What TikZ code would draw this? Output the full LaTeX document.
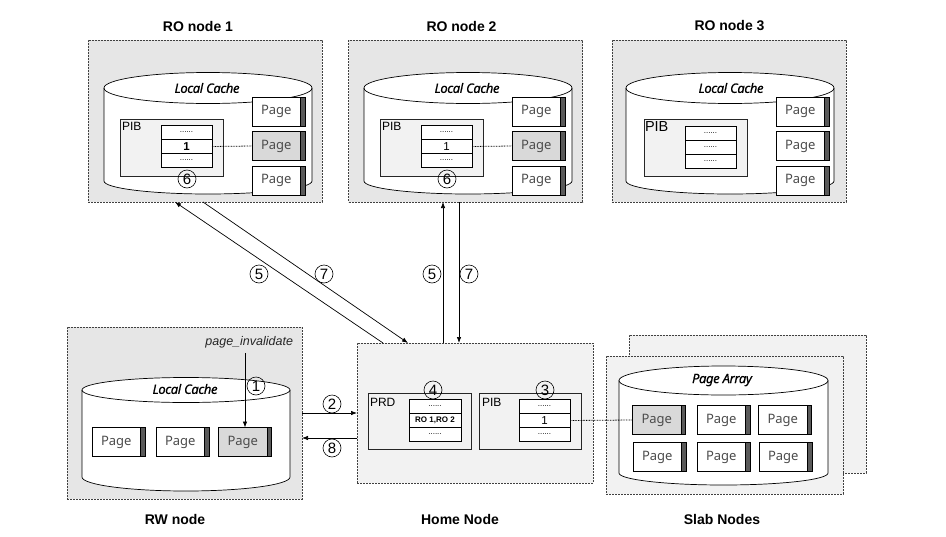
\documentclass[tikz,border=0pt]{standalone}
\usepackage{fontspec}
\setmainfont{Liberation Sans}
\newfontfamily\notosans{Noto Sans}
\newfontfamily\cachefont[LetterSpace=-3,FakeBold=0.6]{Noto Sans Italic}
\usetikzlibrary{arrows.meta}

\definecolor{boxdark}{HTML}{E6E6E6}
\definecolor{boxlight}{HTML}{F2F2F2}
\definecolor{pagegrayc}{HTML}{D9D9D9}
\definecolor{barc}{HTML}{5A5A5A}

\newcommand\pg{\makebox[48.5pt]{Page}\hspace*{4.5pt}}
\newcommand\cyl[6]{% left right topy rytop bottomy rybottom
  \pgfmathsetmacro\rxx{(#2-#1)/2}%
  \pgfmathsetmacro\cxx{(#2+#1)/2}%
  \path[cylfill] (#1,#3) -- (#1,#5) arc[start angle=180,end angle=0,x radius=\rxx,y radius=#6] -- (#2,#3) arc[start angle=0,end angle=-180,x radius=\rxx,y radius=#4] -- cycle;
  \draw[cylline] (#1,#3) -- (#1,#5) arc[start angle=180,end angle=0,x radius=\rxx,y radius=#6] -- (#2,#3);
  \draw[cylline] (\cxx,#3) ellipse[x radius=\rxx,y radius=#4];
}

\begin{document}
\begin{tikzpicture}[x=1pt,y=-1pt,
  every node/.style={inner sep=0pt, outer sep=0pt},
  nodebox/.style={draw=black!75, dash pattern=on 2pt off 1pt, line width=0.7pt, fill=#1},
  innerbox/.style={draw=black!85, line width=0.7pt, fill=#1},
  cell/.style={draw, line width=0.7pt, fill=white, minimum width=51pt, minimum height=14pt, font=\fontsize{8}{8}\selectfont},
  cellnum/.style={cell, font=\fontsize{11.5}{11.5}\selectfont},
  page/.style={draw, line width=0.7pt, fill=white, minimum width=53pt, minimum height=29pt,
    text=black!70, font=\notosans\fontsize{13}{13}\selectfont,
    path picture={\fill[barc] ([xshift=-4.5pt]path picture bounding box.north east) rectangle (path picture bounding box.south east);
      \draw[line width=0.7pt] ([xshift=-4.5pt]path picture bounding box.north east) -- ([xshift=-4.5pt]path picture bounding box.south east);}},
  pagegray/.style={page, fill=pagegrayc},
  cylfill/.style={fill=white},
  cylline/.style={draw, line width=0.7pt},
  title/.style={font=\bfseries\fontsize{14}{14}\selectfont},
  cachelabel/.style={font=\cachefont\fontsize{13}{13}\selectfont},
  boxlabel/.style={anchor=north west, font=\fontsize{12}{12}\selectfont},
  circ/.style={circle, draw, line width=0.6pt, minimum size=18pt, font=\fontsize{15}{15}\selectfont},
  arr/.style={line width=0.7pt, -{Latex[length=6pt,width=4.5pt]}},
  dotline/.style={line width=0.8pt, dash pattern=on 0.8pt off 0.8pt}
]
\useasboundingbox (0,0) rectangle (946,536);

% ---------- titles
\node[title] (t-ro1) at (198,26) {RO node 1};
\node[title] (t-ro2) at (461.5,26) {RO node 2};
\node[title] (t-ro3) at (729.5,26) {RO node 3};
\node[title] (t-rw) at (175,519) {RW node};
\node[title] (t-home) at (460,519) {Home Node};
\node[title] (t-slab) at (722,519) {Slab Nodes};

% ---------- outer boxes
\node[nodebox=boxdark, minimum width=234pt, minimum height=162pt] (ro1) at (205,121) {};
\node[nodebox=boxdark, minimum width=234pt, minimum height=162pt] (ro2) at (465.5,121) {};
\node[nodebox=boxdark, minimum width=234pt, minimum height=162pt] (ro3) at (729,121) {};
\node[nodebox=boxdark, minimum width=235pt, minimum height=172pt] (rw) at (184.5,413) {};
\node[nodebox=boxlight, minimum width=236pt, minimum height=140pt] (home) at (475,413) {};
\node[nodebox=boxlight, minimum width=237pt, minimum height=138pt] (slabback) at (747.5,404) {};
\node[nodebox=boxlight, minimum width=237pt, minimum height=138pt] (slab) at (724.5,425) {};

% ---------- cylinders
\cyl{104}{312}{88}{15.5}{181}{13}
\cyl{364}{572}{88}{15.5}{181}{13}
\cyl{626}{834}{88}{15.5}{181}{13}
\cyl{82}{290}{390}{12.5}{477}{14}
\cyl{619}{828}{380.5}{14.5}{473}{12}

\node[cachelabel] (lc1) at (207,88) {Local Cache};
\node[cachelabel] (lc2) at (467,88) {Local Cache};
\node[cachelabel] (lc3) at (731,88) {Local Cache};
\node[cachelabel] (lcrw) at (185,389) {Local Cache};
\node[cachelabel] (pa) at (722,380) {Page Array};

% ---------- RO node 1
\node[innerbox=boxlight, minimum width=103pt, minimum height=57pt] (pib1) at (171.5,147.5) {};
\node[boxlabel] (pib1l) at (122,122) {PIB};
\node[cell] (t1a) at (186.5,132.5) {......};
\node[cellnum, font=\bfseries\fontsize{11.5}{11.5}\selectfont] (t1b) at (186.5,146.5) {1};
\node[cell] (t1c) at (186.5,160.5) {......};
\node[page] (p1a) at (278.5,111.5) {\pg};
\node[pagegray] (p1b) at (278.5,146) {\pg};
\node[page] (p1c) at (278.5,180.5) {\pg};
\draw[dotline] (t1b.east) -- (p1b.west);
\node[circ] (c6a) at (187,179) {6};

% ---------- RO node 2
\node[innerbox=boxlight, minimum width=103pt, minimum height=57pt] (pib2) at (431.5,147.5) {};
\node[boxlabel] (pib2l) at (382,122) {PIB};
\node[cell] (t2a) at (446.5,132.5) {......};
\node[cellnum] (t2b) at (446.5,146.5) {1};
\node[cell] (t2c) at (446.5,160.5) {......};
\node[page] (p2a) at (538.5,111.5) {\pg};
\node[pagegray] (p2b) at (538.5,146) {\pg};
\node[page] (p2c) at (538.5,180.5) {\pg};
\draw[dotline] (t2b.east) -- (p2b.west);
\node[circ] (c6b) at (447,179) {6};

% ---------- RO node 3
\node[innerbox=boxlight, minimum width=103pt, minimum height=57pt] (pib3) at (695.5,147.5) {};
\node[boxlabel, font=\fontsize{14.5}{14.5}\selectfont] (pib3l) at (645,122) {PIB};
\node[cell] (t3a) at (710.5,133) {......};
\node[cell] (t3b) at (710.5,147) {......};
\node[cell] (t3c) at (710.5,161) {......};
\node[page] (p3a) at (802.5,111.5) {\pg};
\node[page] (p3b) at (802.5,146) {\pg};
\node[page] (p3c) at (802.5,180.5) {\pg};

% ---------- RW node
\node[page] (rwp1) at (118.5,442) {\pg};
\node[page] (rwp2) at (182.5,442) {\pg};
\node[pagegray] (rwp3) at (245,442) {\pg};
\node[font=\itshape\fontsize{12.5}{12.5}\selectfont, anchor=east, text=black!85] (pinv) at (293,342) {page\_invalidate};
\coordinate (pinvfoot) at ([yshift=-5pt]pinv.south);
\draw[arr] (pinvfoot -| rwp3.north) -- (rwp3.north);
\node[circ] (c1) at (256,386) {1};

% ---------- Home node
\node[innerbox=boxlight, minimum width=103pt, minimum height=56pt] (prd) at (419.5,421) {};
\node[boxlabel] (prdl) at (370,398) {PRD};
\node[cell, minimum width=52pt] (pra) at (435,406.5) {......};
\node[cell, minimum width=52pt, font=\bfseries\fontsize{8}{8}\selectfont] (prb) at (435,420.5) {RO 1,RO 2};
\node[cell, minimum width=52pt] (prc) at (435,434.5) {......};
\node[circ] (c4) at (433,390) {4};

\node[innerbox=boxlight, minimum width=102pt, minimum height=56pt] (hpib) at (530,421) {};
\node[boxlabel] (hpibl) at (482,398) {PIB};
\node[cell] (hpa) at (544.5,406.5) {......};
\node[cellnum] (hpb) at (544.5,420.5) {1};
\node[cell] (hpc) at (544.5,434.5) {......};
\node[circ] (c3) at (545,390) {3};

% ---------- Slab nodes
\node[pagegray] (sp11) at (659,420) {\pg};
\node[page] (sp12) at (723.5,420) {\pg};
\node[page] (sp13) at (785,420) {\pg};
\node[page] (sp21) at (659.5,457) {\pg};
\node[page] (sp22) at (723.5,457) {\pg};
\node[page] (sp23) at (785.5,457) {\pg};
\draw[dotline] (hpb.east) -- (sp11.west);

% ---------- connectors
\draw[arr] ([xshift=-92pt]home.north) -- ([xshift=-30pt]ro1.south);
\draw[arr] ([xshift=-2pt]ro1.south) -- ([xshift=-67pt]home.north);
\draw[arr] ([xshift=-32pt]home.north) -- ([xshift=-22.5pt]ro2.south);
\draw[arr] ([xshift=-6.5pt]ro2.south) -- ([xshift=-16pt]home.north);
\draw[arr] (rw.east) -- (home.west);
\draw[arr] ([yshift=-25pt]home.west) -- ([yshift=-25pt]rw.east);

\node[circ] (c5a) at (259,274) {5};
\node[circ] (c7a) at (324,274) {7};
\node[circ] (c5b) at (432,274) {5};
\node[circ] (c7b) at (469,274) {7};
\node[circ] (c2) at (332,404) {2};
\node[circ] (c8) at (332,448) {8};
\end{tikzpicture}
\end{document}
